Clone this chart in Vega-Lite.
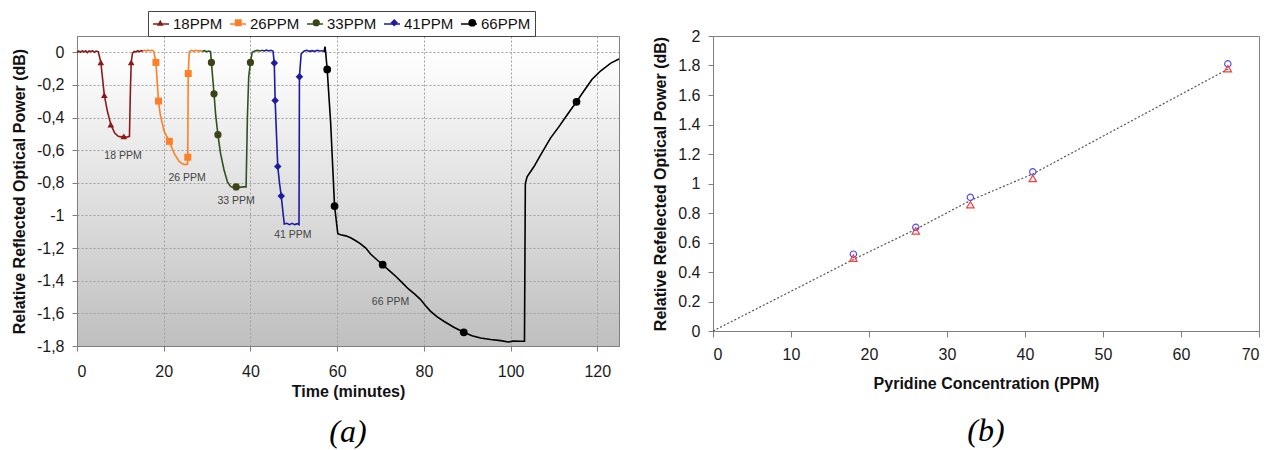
{
  "$schema": "https://vega.github.io/schema/vega-lite/v6.json",
  "autosize": {"type": "pad"},
  "padding": {"left": 10, "top": 10, "right": 5, "bottom": 2},
  "background": "white",
  "spacing": 94,
  "bounds": "flush",
  "resolve": {"scale": {"color": "independent", "shape": "independent", "size": "independent"}, "legend": {"color": "independent", "shape": "independent"}},
  "config": {
    "font": "Liberation Sans",
    "axis": {
      "labelFont": "Liberation Sans", "labelFontSize": 16, "labelColor": "#1a1a1a", "labelOverlap": false,
      "titleFont": "Liberation Sans", "titleFontSize": 16, "titleFontWeight": "bold", "titleColor": "#111111",
      "domainColor": "#7f7f7f", "tickColor": "#7f7f7f", "tickSize": 5
    },
    "axisY": {"labelOverlap": false},
    "title": {"font": "Liberation Serif", "fontSize": 32, "fontStyle": "italic", "fontWeight": "normal", "color": "#000000", "orient": "bottom", "anchor": "middle"}
  },
  "datasets": {
    "curves": [
      {"s":"18PPM","t":0,"v":0},{"s":"18PPM","t":0.4,"v":0.008},{"s":"18PPM","t":0.8,"v":0},{"s":"18PPM","t":1.2,"v":0.01},{"s":"18PPM","t":1.6,"v":0.002},{"s":"18PPM","t":2.0,"v":0.009},{"s":"18PPM","t":2.4,"v":-0.002},{"s":"18PPM","t":2.8,"v":0.008},{"s":"18PPM","t":3.2,"v":0.004},{"s":"18PPM","t":3.6,"v":0.01},{"s":"18PPM","t":4.0,"v":0},{"s":"18PPM","t":4.4,"v":0.008},{"s":"18PPM","t":4.9,"v":0.004},{"s":"18PPM","t":5.5,"v":-0.062},{"s":"18PPM","t":6.3,"v":-0.262},{"s":"18PPM","t":7.0,"v":-0.36},{"s":"18PPM","t":7.8,"v":-0.443},{"s":"18PPM","t":8.7,"v":-0.495},{"s":"18PPM","t":9.5,"v":-0.515},{"s":"18PPM","t":10.2,"v":-0.518},{"s":"18PPM","t":10.8,"v":-0.515},{"s":"18PPM","t":11.5,"v":-0.52},{"s":"18PPM","t":12.1,"v":-0.515},{"s":"18PPM","t":12.3,"v":-0.25},{"s":"18PPM","t":12.5,"v":-0.062},{"s":"18PPM","t":12.8,"v":-0.005},{"s":"18PPM","t":13.2,"v":0.006},{"s":"18PPM","t":13.6,"v":0.002},{"s":"18PPM","t":14.0,"v":0.01},{"s":"18PPM","t":14.4,"v":0.004},{"s":"18PPM","t":14.8,"v":0.01},{"s":"18PPM","t":15.2,"v":0.008},
      {"s":"26PPM","t":15.2,"v":0.008},{"s":"26PPM","t":15.6,"v":0.012},{"s":"26PPM","t":16.0,"v":0.008},{"s":"26PPM","t":16.4,"v":0.014},{"s":"26PPM","t":16.8,"v":0.01},{"s":"26PPM","t":17.2,"v":0.012},{"s":"26PPM","t":17.7,"v":0.006},{"s":"26PPM","t":18.2,"v":-0.062},{"s":"26PPM","t":18.8,"v":-0.299},{"s":"26PPM","t":19.2,"v":-0.38},{"s":"26PPM","t":20.1,"v":-0.485},{"s":"26PPM","t":21.3,"v":-0.546},{"s":"26PPM","t":22.4,"v":-0.62},{"s":"26PPM","t":23.6,"v":-0.67},{"s":"26PPM","t":24.4,"v":-0.685},{"s":"26PPM","t":25.0,"v":-0.688},{"s":"26PPM","t":25.5,"v":-0.685},{"s":"26PPM","t":25.55,"v":-0.643},{"s":"26PPM","t":25.65,"v":-0.13},{"s":"26PPM","t":25.9,"v":0.004},{"s":"26PPM","t":26.4,"v":0.012},{"s":"26PPM","t":26.9,"v":0.006},{"s":"26PPM","t":27.4,"v":0.012},{"s":"26PPM","t":27.9,"v":0.008},{"s":"26PPM","t":28.4,"v":0.01},{"s":"26PPM","t":28.9,"v":0.006},
      {"s":"33PPM","t":28.9,"v":0.006},{"s":"33PPM","t":29.4,"v":0.01},{"s":"33PPM","t":29.9,"v":0.004},{"s":"33PPM","t":30.4,"v":0.008},{"s":"33PPM","t":30.8,"v":0.004},{"s":"33PPM","t":31.0,"v":-0.062},{"s":"33PPM","t":31.6,"v":-0.254},{"s":"33PPM","t":32.0,"v":-0.39},{"s":"33PPM","t":32.5,"v":-0.505},{"s":"33PPM","t":33.1,"v":-0.62},{"s":"33PPM","t":33.9,"v":-0.72},{"s":"33PPM","t":34.7,"v":-0.795},{"s":"33PPM","t":35.4,"v":-0.822},{"s":"33PPM","t":36.0,"v":-0.828},{"s":"33PPM","t":36.7,"v":-0.825},{"s":"33PPM","t":37.5,"v":-0.828},{"s":"33PPM","t":38.3,"v":-0.825},{"s":"33PPM","t":39.0,"v":-0.825},{"s":"33PPM","t":39.3,"v":-0.4},{"s":"33PPM","t":39.6,"v":-0.15},{"s":"33PPM","t":40.0,"v":-0.062},{"s":"33PPM","t":40.4,"v":0.0},{"s":"33PPM","t":41.0,"v":0.008},{"s":"33PPM","t":41.6,"v":0.012},{"s":"33PPM","t":42.2,"v":0.008},{"s":"33PPM","t":42.7,"v":0.012},
      {"s":"41PPM","t":42.7,"v":0.012},{"s":"41PPM","t":43.2,"v":0.008},{"s":"41PPM","t":43.7,"v":0.014},{"s":"41PPM","t":44.2,"v":0.008},{"s":"41PPM","t":44.7,"v":0.012},{"s":"41PPM","t":45.2,"v":0.008},{"s":"41PPM","t":45.5,"v":-0.066},{"s":"41PPM","t":45.7,"v":-0.295},{"s":"41PPM","t":46.0,"v":-0.5},{"s":"41PPM","t":46.3,"v":-0.70},{"s":"41PPM","t":46.7,"v":-0.80},{"s":"41PPM","t":47.1,"v":-0.88},{"s":"41PPM","t":47.5,"v":-0.98},{"s":"41PPM","t":47.8,"v":-1.052},{"s":"41PPM","t":48.4,"v":-1.048},{"s":"41PPM","t":49.0,"v":-1.056},{"s":"41PPM","t":49.6,"v":-1.048},{"s":"41PPM","t":50.2,"v":-1.056},{"s":"41PPM","t":50.8,"v":-1.05},{"s":"41PPM","t":51.2,"v":-1.056},{"s":"41PPM","t":51.3,"v":-0.15},{"s":"41PPM","t":51.7,"v":-0.01},{"s":"41PPM","t":52.4,"v":0.008},{"s":"41PPM","t":53.0,"v":0.012},{"s":"41PPM","t":53.6,"v":0.006},{"s":"41PPM","t":54.2,"v":0.01},{"s":"41PPM","t":54.8,"v":0.006},{"s":"41PPM","t":55.4,"v":0.012},{"s":"41PPM","t":56.0,"v":0.008},{"s":"41PPM","t":56.8,"v":0.01},
      {"s":"66PPM","t":56.8,"v":0.01},{"s":"66PPM","t":57.0,"v":0.006},{"s":"66PPM","t":57.2,"v":0.035},{"s":"66PPM","t":57.35,"v":0.0},{"s":"66PPM","t":57.7,"v":-0.105},{"s":"66PPM","t":58.5,"v":-0.433},{"s":"66PPM","t":59.4,"v":-0.942},{"s":"66PPM","t":60.15,"v":-1.112},{"s":"66PPM","t":60.8,"v":-1.118},{"s":"66PPM","t":62.0,"v":-1.125},{"s":"66PPM","t":63.1,"v":-1.137},{"s":"66PPM","t":64.3,"v":-1.155},{"s":"66PPM","t":65.4,"v":-1.174},{"s":"66PPM","t":66.6,"v":-1.2},{"s":"66PPM","t":67.7,"v":-1.236},{"s":"66PPM","t":69.1,"v":-1.27},{"s":"66PPM","t":70.5,"v":-1.302},{"s":"66PPM","t":72.1,"v":-1.34},{"s":"66PPM","t":73.8,"v":-1.38},{"s":"66PPM","t":75.1,"v":-1.415},{"s":"66PPM","t":76.5,"v":-1.452},{"s":"66PPM","t":77.9,"v":-1.482},{"s":"66PPM","t":79.2,"v":-1.514},{"s":"66PPM","t":80.3,"v":-1.55},{"s":"66PPM","t":81.5,"v":-1.586},{"s":"66PPM","t":83.0,"v":-1.62},{"s":"66PPM","t":84.6,"v":-1.648},{"s":"66PPM","t":86.9,"v":-1.685},{"s":"66PPM","t":89.2,"v":-1.716},{"s":"66PPM","t":91.1,"v":-1.737},{"s":"66PPM","t":93.1,"v":-1.751},{"s":"66PPM","t":95.4,"v":-1.76},{"s":"66PPM","t":97.7,"v":-1.767},{"s":"66PPM","t":99.5,"v":-1.775},{"s":"66PPM","t":100.5,"v":-1.77},{"s":"66PPM","t":102.3,"v":-1.771},{"s":"66PPM","t":103.2,"v":-1.771},{"s":"66PPM","t":103.4,"v":-0.804},{"s":"66PPM","t":103.8,"v":-0.763},{"s":"66PPM","t":105.4,"v":-0.70},{"s":"66PPM","t":106.9,"v":-0.63},{"s":"66PPM","t":109.2,"v":-0.526},{"s":"66PPM","t":111.2,"v":-0.454},{"s":"66PPM","t":113.1,"v":-0.381},{"s":"66PPM","t":115.2,"v":-0.303},{"s":"66PPM","t":116.9,"v":-0.237},{"s":"66PPM","t":118.8,"v":-0.165},{"s":"66PPM","t":120.8,"v":-0.113},{"s":"66PPM","t":123.1,"v":-0.066},{"s":"66PPM","t":125.0,"v":-0.041}
    ],
    "markers": [
      {"run":"18PPM","t":5.5,"v":-0.062},{"run":"18PPM","t":6.3,"v":-0.262},{"run":"18PPM","t":7.8,"v":-0.443},{"run":"18PPM","t":10.8,"v":-0.515},{"run":"18PPM","t":12.5,"v":-0.062},
      {"run":"26PPM","t":18.2,"v":-0.062},{"run":"26PPM","t":18.8,"v":-0.299},{"run":"26PPM","t":21.3,"v":-0.546},{"run":"26PPM","t":25.55,"v":-0.643},{"run":"26PPM","t":25.65,"v":-0.13},
      {"run":"33PPM","t":31.0,"v":-0.062},{"run":"33PPM","t":31.6,"v":-0.254},{"run":"33PPM","t":32.5,"v":-0.505},{"run":"33PPM","t":36.7,"v":-0.825},{"run":"33PPM","t":40.0,"v":-0.062},
      {"run":"41PPM","t":45.5,"v":-0.066},{"run":"41PPM","t":45.7,"v":-0.295},{"run":"41PPM","t":46.3,"v":-0.70},{"run":"41PPM","t":47.1,"v":-0.88},{"run":"41PPM","t":51.3,"v":-0.15},
      {"run":"66PPM","t":57.7,"v":-0.105},{"run":"66PPM","t":59.4,"v":-0.942},{"run":"66PPM","t":70.5,"v":-1.302},{"run":"66PPM","t":89.2,"v":-1.716},{"run":"66PPM","t":115.2,"v":-0.303}
    ],
    "notes": [
      {"label":"18 PPM","t":10.6,"v":-0.634},
      {"label":"26 PPM","t":25.4,"v":-0.768},
      {"label":"33 PPM","t":36.7,"v":-0.91},
      {"label":"41 PPM","t":49.8,"v":-1.12},
      {"label":"66 PPM","t":72.3,"v":-1.53}
    ],
    "fit": [
      {"c":0,"p":0},{"c":18,"p":0.485},{"c":26,"p":0.69},{"c":33,"p":0.885},{"c":41,"p":1.065},{"c":66,"p":1.775}
    ],
    "pts": [
      {"series":"Series 1","c":18,"p":0.521},{"series":"Series 1","c":26,"p":0.703},{"series":"Series 1","c":33,"p":0.906},{"series":"Series 1","c":41,"p":1.079},{"series":"Series 1","c":66,"p":1.811},
      {"series":"Series 2","c":18,"p":0.494},{"series":"Series 2","c":26,"p":0.679},{"series":"Series 2","c":33,"p":0.856},{"series":"Series 2","c":41,"p":1.034},{"series":"Series 2","c":66,"p":1.778}
    ]
  },
  "hconcat": [
    {
      "width": 542,
      "height": 310,
      "title": {"text": "(a)", "offset": 18},
      "view": {
        "stroke": "#808080",
        "fill": {"gradient": "linear", "x1": 0, "y1": 0, "x2": 0, "y2": 1,
                 "stops": [{"offset": 0, "color": "#ffffff"}, {"offset": 0.08, "color": "#fdfdfd"}, {"offset": 1, "color": "#bfbfbf"}]}
      },
      "resolve": {"scale": {"color": "independent", "size": "independent", "shape": "independent"}, "legend": {"color": "independent", "shape": "independent"}},
      "encoding": {
        "x": {"field": "t", "type": "quantitative", "scale": {"domain": [0, 125], "nice": false},
              "axis": {"values": [0, 20, 40, 60, 80, 100, 120], "labelOverlap": false, "title": "Time (minutes)", "grid": true, "gridDash": [2, 2], "gridColor": "#a0a0a0", "tickSize": 5, "labelPadding": 12, "titlePadding": 4}},
        "y": {"field": "v", "type": "quantitative", "scale": {"domain": [-1.8, 0.1], "nice": false, "zero": false},
              "axis": {"values": [-1.8, -1.6, -1.4, -1.2, -1, -0.8, -0.6, -0.4, -0.2, 0], "labelOverlap": false, "labelSeparation": 0,
                       "labelExpr": "replace(replace(format(datum.value,'~g'),'\u2212','-'),'.',',')",
                       "title": "Relative Reflected Optical Power (dB)", "grid": true, "gridDash": [2, 2], "gridColor": "#a0a0a0", "tickSize": 5, "labelPadding": 8, "titlePadding": 9}}
      },
      "layer": [
        {
          "data": {"name": "curves"},
          "mark": {"type": "line", "strokeWidth": 1.6},
          "encoding": {
            "color": {"field": "s", "type": "nominal",
                      "scale": {"range": ["#8b1a1a", "#ff7f27", "#2f5220", "#1c1ca0", "#000000"]},
                      "legend": {"orient": "none", "legendX": 71, "legendY": -25, "direction": "horizontal", "columns": 5, "title": null,
                                 "strokeColor": "#444444", "padding": 4, "labelFontSize": 15, "labelFont": "Liberation Sans", "labelColor": "#111111",
                                 "symbolType": "stroke", "symbolSize": 256, "symbolStrokeWidth": 1.5, "columnPadding": 4, "labelOffset": 3, "zindex": 1}}
          }
        },
        {
          "data": {"name": "markers"},
          "mark": {"type": "point", "filled": true, "opacity": 1},
          "encoding": {
            "color": {"field": "run", "type": "nominal",
                      "scale": {"domain": ["18PPM", "26PPM", "33PPM", "41PPM", "66PPM"], "range": ["#8b1a1a", "#ff7f27", "#3d4217", "#1c1ca0", "#000000"]},
                      "legend": {"orient": "none", "legendX": 71, "legendY": -25, "direction": "horizontal", "columns": 5, "title": null,
                                 "padding": 4, "labelFontSize": 15, "labelFont": "Liberation Sans", "labelExpr": "''",
                                 "symbolSize": 64, "symbolStrokeWidth": 0, "symbolOffset": 0.75, "columnPadding": 4, "labelOffset": 58.2, "zindex": 2}},
            "shape": {"field": "run", "type": "nominal",
                      "scale": {"domain": ["18PPM", "26PPM", "33PPM", "41PPM", "66PPM"], "range": ["triangle-up", "square", "circle", "diamond", "circle"]},
                      "legend": {"orient": "none", "legendX": 71, "legendY": -25, "direction": "horizontal", "columns": 5, "title": null,
                                 "padding": 4, "labelFontSize": 15, "labelFont": "Liberation Sans", "labelExpr": "''",
                                 "symbolSize": 64, "symbolStrokeWidth": 0, "symbolOffset": 0.75, "columnPadding": 4, "labelOffset": 58.2, "zindex": 2}},
            "size": {"field": "run", "type": "ordinal",
                     "scale": {"domain": ["18PPM", "26PPM", "33PPM", "41PPM", "66PPM"], "range": [45, 60, 70, 35, 75]},
                     "legend": null}
          }
        },
        {
          "data": {"name": "notes"},
          "mark": {"type": "text", "fontSize": 10.5, "font": "Liberation Sans", "color": "#444444"},
          "encoding": {
            "text": {"field": "label"}
          }
        }
      ]
    },
    {
      "width": 546,
      "height": 295,
      "title": {"text": "(b)", "offset": 25},
      "view": {"stroke": "#808080"},
      "encoding": {
        "x": {"field": "c", "type": "quantitative", "scale": {"domain": [0, 70], "nice": false},
              "axis": {"values": [0, 10, 20, 30, 40, 50, 60, 70], "labelOverlap": false, "title": "Pyridine Concentration (PPM)", "grid": false, "tickSize": 6, "labelPadding": 9, "titlePadding": 13}},
        "y": {"field": "p", "type": "quantitative", "scale": {"domain": [0, 2], "nice": false},
              "axis": {"values": [0, 0.2, 0.4, 0.6, 0.8, 1, 1.2, 1.4, 1.6, 1.8, 2], "labelOverlap": false, "labelSeparation": 0, "labelExpr": "format(datum.value,'~g')",
                       "title": "Relative Refelected Optical Power (dB)", "grid": false, "tickSize": 5, "labelPadding": 8, "titlePadding": 9}}
      },
      "layer": [
        {
          "data": {"name": "fit"},
          "mark": {"type": "line", "strokeDash": [2, 2], "color": "#555555", "strokeWidth": 1.2},
          "encoding": {}
        },
        {
          "data": {"name": "pts"},
          "mark": {"type": "point", "filled": false, "strokeWidth": 1.2, "opacity": 1},
          "encoding": {
            "shape": {"field": "series", "type": "nominal", "scale": {"domain": ["Series 1", "Series 2"], "range": ["circle", "triangle-up"]}, "legend": null},
            "color": {"field": "series", "type": "nominal", "scale": {"domain": ["Series 1", "Series 2"], "range": ["#4d4dff", "#ff3b3b"]}, "legend": null},
            "size": {"field": "series", "type": "nominal", "scale": {"domain": ["Series 1", "Series 2"], "range": [40, 55]}, "legend": null}
          }
        }
      ]
    }
  ]
}
